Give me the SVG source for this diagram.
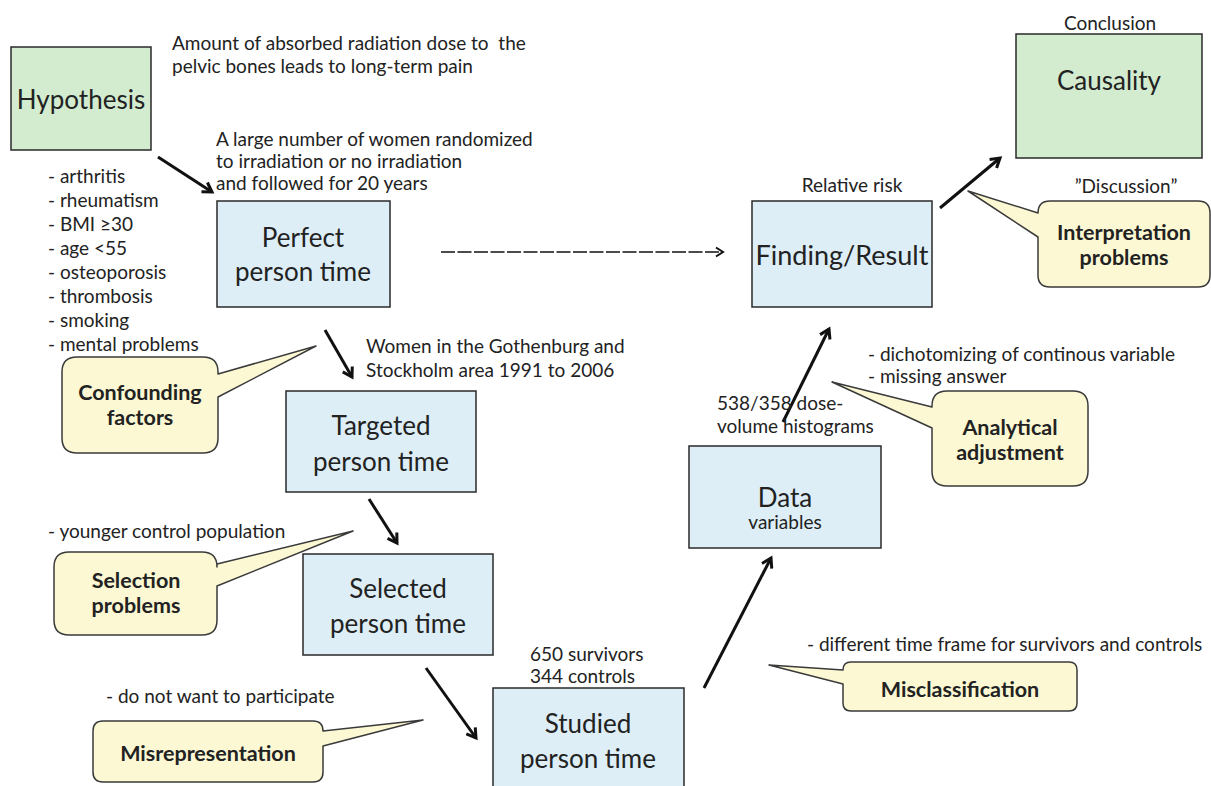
<svg xmlns="http://www.w3.org/2000/svg" width="1211" height="786" viewBox="0 0 1211 786">
<defs>
<style>
text{font-family:Lato,"Liberation Sans",sans-serif;fill:#222}
.s{font-size:19px}
.big{font-size:26px;text-anchor:middle}
.c{font-size:21.5px;font-weight:bold;text-anchor:middle}
.mid{text-anchor:middle}
.green{fill:#d3ecd0;stroke:#2a2a2a;stroke-width:1.5}
.blue{fill:#ddeef6;stroke:#2a2a2a;stroke-width:1.5}
.call{fill:#fbf8d3;stroke:#3a3a3a;stroke-width:1.5;stroke-linejoin:round}
.arr{stroke:#111;stroke-width:3;fill:none;marker-end:url(#ah)}
.dash{stroke:#111;stroke-width:1.3;fill:none;stroke-dasharray:14 2.5;marker-end:url(#ahs)}
</style>
<marker id="ah" viewBox="0 0 14 14" refX="11" refY="7" markerWidth="14" markerHeight="14" markerUnits="userSpaceOnUse" orient="auto">
<path d="M2,1.5 L11,7 L2,12.5" fill="none" stroke="#111" stroke-width="3"/>
</marker>
<marker id="ahs" viewBox="0 0 12 12" refX="10" refY="6" markerWidth="12" markerHeight="12" markerUnits="userSpaceOnUse" orient="auto">
<path d="M3,1.5 L10,6 L3,10.5" fill="none" stroke="#111" stroke-width="2"/>
</marker>
</defs>
<rect width="1211" height="786" fill="#fff"/>

<g id="connectors">
<line class="arr" x1="158" y1="157" x2="212" y2="192"/>
<line class="dash" x1="441" y1="252" x2="723" y2="252"/>
<line class="arr" x1="940" y1="208" x2="1000" y2="158"/>
<line class="arr" x1="325" y1="330" x2="352" y2="377"/>
<line class="arr" x1="369" y1="499" x2="397" y2="543"/>
<line class="arr" x1="426" y1="668" x2="476" y2="738"/>
<line class="arr" x1="704" y1="688" x2="771" y2="558"/>
<line class="arr" x1="783" y1="422" x2="829" y2="329"/>
</g>

<g id="hypothesis">
<rect class="green" x="11" y="47" width="140" height="103"/>
<text class="big" x="81" y="109">Hypothesis</text>
</g>
<g id="hypothesis-note">
<text class="s" x="172" y="50" xml:space="preserve">Amount of absorbed radiation dose to  the</text>
<text class="s" x="172" y="73">pelvic bones leads to long-term pain</text>
</g>

<g id="perfect">
<rect class="blue" x="217" y="201" width="173" height="106"/>
<text class="big" x="303" y="247">Perfect</text>
<text class="big" x="303" y="281">person time</text>
</g>
<g id="perfect-note">
<text class="s" x="216" y="146">A large number of women randomized</text>
<text class="s" x="216" y="168">to irradiation or no irradiation</text>
<text class="s" x="216" y="190">and followed for 20 years</text>
</g>

<g id="confounders-list">
<text class="s" x="48" y="183">- arthritis</text>
<text class="s" x="48" y="207">- rheumatism</text>
<text class="s" x="48" y="231">- BMI ≥30</text>
<text class="s" x="48" y="255">- age &lt;55</text>
<text class="s" x="48" y="279">- osteoporosis</text>
<text class="s" x="48" y="303">- thrombosis</text>
<text class="s" x="48" y="327">- smoking</text>
<text class="s" x="48" y="351">- mental problems</text>
</g>

<g id="confounding">
<path class="call" d="M77,357 H203 Q218,357 218,372 V374 L316,346 L218,397 V438 Q218,453 203,453 H77 Q62,453 62,438 V372 Q62,357 77,357 Z"/>
<text class="c" x="140" y="400">Confounding</text>
<text class="c" x="140" y="425">factors</text>
</g>

<g id="targeted">
<rect class="blue" x="286" y="391" width="190" height="101"/>
<text class="big" x="381" y="435">Targeted</text>
<text class="big" x="381" y="471">person time</text>
</g>
<g id="targeted-note">
<text class="s" x="366" y="353">Women in the Gothenburg and</text>
<text class="s" x="366" y="377">Stockholm area 1991 to 2006</text>
</g>

<g id="selection">
<text class="s" x="48" y="538">- younger control population</text>
<path class="call" d="M69,552 H202 Q217,552 217,567 V564 L353,531 L217,586 V620 Q217,635 202,635 H69 Q54,635 54,620 V567 Q54,552 69,552 Z"/>
<text class="c" x="136" y="588">Selection</text>
<text class="c" x="136" y="613">problems</text>
</g>

<g id="selected">
<rect class="blue" x="303" y="554" width="190" height="101"/>
<text class="big" x="398" y="598">Selected</text>
<text class="big" x="398" y="633">person time</text>
</g>

<g id="studied">
<rect class="blue" x="493" y="688" width="191" height="110"/>
<text class="big" x="588" y="733">Studied</text>
<text class="big" x="588" y="768">person time</text>
</g>
<g id="studied-note">
<text class="s" x="530" y="661">650 survivors</text>
<text class="s" x="530" y="683">344 controls</text>
</g>

<g id="misrepresentation">
<text class="s" x="106" y="703">- do not want to participate</text>
<path class="call" d="M103,721 H313 Q323,721 323,731 L423,720 L323,746 V772 Q323,782 313,782 H103 Q93,782 93,772 V731 Q93,721 103,721 Z"/>
<text class="c" x="208" y="761">Misrepresentation</text>
</g>

<g id="data">
<rect class="blue" x="689" y="446" width="192" height="102"/>
<text class="big" x="785" y="507">Data</text>
<text class="s mid" x="785" y="529">variables</text>
</g>
<g id="data-note">
<text class="s" x="717" y="410">538/358 dose-</text>
<text class="s" x="717" y="433">volume histograms</text>
</g>

<g id="misclassification">
<text class="s" x="807" y="651">- different time frame for survivors and controls</text>
<path class="call" d="M851,662 H1069 Q1077,662 1077,670 V703 Q1077,711 1069,711 H851 Q843,711 843,703 V684 L769,665 L843,670 Q843,662 851,662 Z"/>
<text class="c" x="960" y="697">Misclassification</text>
</g>

<g id="finding">
<rect class="blue" x="752" y="201" width="180" height="106"/>
<text class="big" x="842" y="265" style="font-size:27px">Finding/Result</text>
<text class="s mid" x="852" y="192">Relative risk</text>
</g>

<g id="analytical">
<text class="s" x="868" y="361">- dichotomizing of continous variable</text>
<text class="s" x="868" y="383">- missing answer</text>
<path class="call" d="M947,391 H1073 Q1088,391 1088,406 V471 Q1088,486 1073,486 H947 Q932,486 932,471 V428 L832,382 L932,407 V406 Q932,391 947,391 Z"/>
<text class="c" x="1010" y="435">Analytical</text>
<text class="c" x="1010" y="460">adjustment</text>
</g>

<g id="causality">
<rect class="green" x="1016" y="34" width="186" height="124"/>
<text class="big" x="1109" y="90">Causality</text>
<text class="s mid" x="1110" y="30">Conclusion</text>
</g>

<g id="interpretation">
<text class="s mid" x="1126" y="193">”Discussion”</text>
<path class="call" d="M1050,201 H1198 Q1210,201 1210,213 V275 Q1210,287 1198,287 H1050 Q1038,287 1038,275 V237 L968,191 L1038,213 Q1038,201 1050,201 Z"/>
<text class="c" x="1124" y="240">Interpretation</text>
<text class="c" x="1124" y="265">problems</text>
</g>
</svg>
